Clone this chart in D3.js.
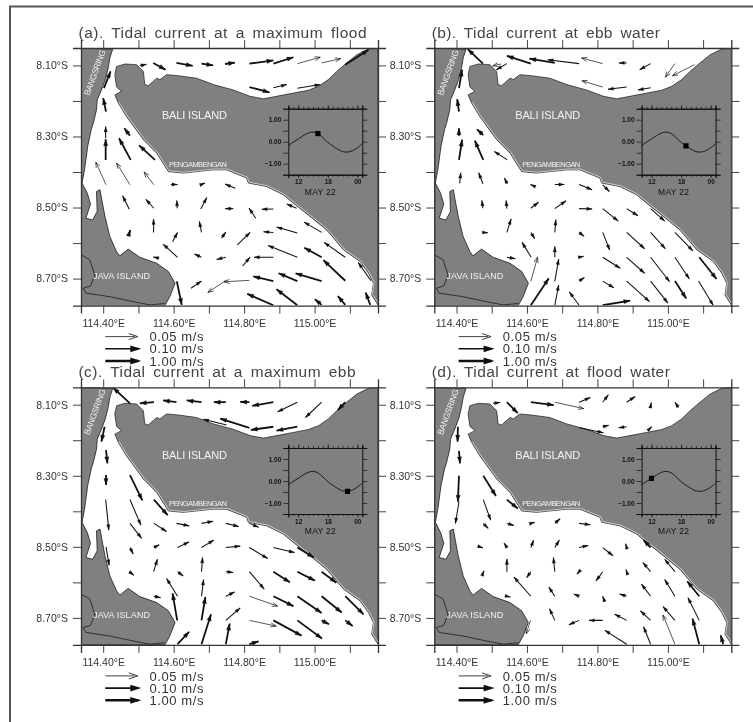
<!DOCTYPE html>
<html>
<head>
<meta charset="utf-8">
<script src="https://cdn.jsdelivr.net/npm/d3@7"></script>
<style>
body { margin: 0; background: #fff; }
svg { display: block; filter: blur(0.35px); }
text { font-family: "Liberation Sans", Arial, sans-serif; }
</style>
</head>
<body>
<svg id="chart" width="753" height="722"></svg>
<script>
// axis ticks
let lonTicks = [114.4, 114.5, 114.6, 114.7, 114.8, 114.9, 115.0, 115.1];
let latTicks = [8.1, 8.2, 8.3, 8.4, 8.5, 8.6, 8.7];

// tide curve for the insets (hour of the day, elevation in m)
let tideHours = [10, 11, 12, 13, 14, 15, 16, 17, 18, 19, 20, 21, 22, 23, 24, 25];
let tideLevel = [-0.18, -0.02, 0.12, 0.27, 0.39, 0.44, 0.37, 0.19, -0.03, -0.19, -0.34, -0.45, -0.47, -0.41, -0.28, -0.09];

// coast lines, [lon, lat]
let baliCoast = [[115.180,8.051],[115.153,8.054],[115.120,8.070],[115.091,8.093],[115.063,8.117],[115.039,8.140],[115.011,8.159],[114.982,8.170],[114.940,8.178],[114.892,8.187],[114.855,8.194],[114.817,8.187],[114.769,8.169],[114.713,8.154],[114.665,8.136],[114.613,8.129],[114.580,8.126],[114.561,8.140],[114.552,8.136],[114.528,8.157],[114.518,8.154],[114.514,8.117],[114.495,8.098],[114.462,8.096],[114.438,8.103],[114.433,8.126],[114.438,8.161],[114.452,8.173],[114.433,8.183],[114.443,8.206],[114.466,8.244],[114.514,8.309],[114.552,8.347],[114.585,8.399],[114.627,8.403],[114.713,8.394],[114.750,8.394],[114.807,8.417],[114.812,8.431],[114.864,8.441],[114.911,8.464],[114.945,8.492],[114.987,8.525],[115.034,8.563],[115.082,8.619],[115.129,8.652],[115.153,8.685],[115.167,8.713],[115.162,8.746],[115.180,8.774]];
let westCoast = [[114.337,8.051],[114.427,8.054],[114.419,8.079],[114.414,8.108],[114.406,8.140],[114.395,8.169],[114.383,8.197],[114.381,8.225],[114.372,8.262],[114.366,8.281],[114.356,8.328],[114.347,8.394],[114.340,8.431],[114.355,8.460],[114.364,8.490],[114.351,8.530],[114.370,8.535],[114.383,8.511],[114.381,8.455],[114.391,8.450],[114.396,8.478],[114.405,8.525],[114.419,8.582],[114.438,8.624],[114.447,8.636],[114.471,8.617],[114.504,8.640],[114.552,8.657],[114.585,8.680],[114.604,8.713],[114.589,8.751],[114.575,8.776],[114.337,8.776]];
let javaLine = [[114.337,8.633],[114.362,8.647],[114.376,8.690],[114.364,8.721],[114.343,8.727],[114.351,8.741],[114.419,8.751],[114.485,8.765],[114.533,8.774],[114.575,8.770]];

// place names: name, lon, lat, size, width, angle
let places = [
    ["BALI ISLAND", 114.659, 8.241, 11, 65, 0],
    ["PENGAMBENGAN", 114.669, 8.378, 7.5, 58, 0],
    ["JAVA ISLAND", 114.452, 8.692, 9, 57, 0],
    ["BANGSRING", 114.376, 8.120, 8.5, 48, -70]
];

// currents: tail lon, tail lat, tip lon, tip lat, line class
let currentsA = [
[114.504,8.101,114.523,8.097,1],[114.542,8.093,114.577,8.112,2],[114.608,8.093,114.654,8.101,2],[114.679,8.095,114.712,8.100,2],[114.746,8.096,114.774,8.092,2],[114.815,8.095,114.883,8.086,2],[114.883,8.095,114.940,8.077,2],[114.951,8.095,115.016,8.077,0],[115.020,8.093,115.074,8.081,0],[115.087,8.098,115.153,8.056,2],
[114.815,8.161,114.872,8.176,2],[114.883,8.163,114.921,8.154,1],[114.951,8.164,115.016,8.154,1],[114.402,8.164,114.421,8.117,2],[114.408,8.230,114.400,8.192,2],[114.407,8.305,114.407,8.272,1],[114.407,8.366,114.407,8.308,2],[114.476,8.298,114.460,8.277,2],[114.478,8.366,114.445,8.305,2],[114.547,8.366,114.502,8.325,2],
[114.408,8.436,114.379,8.372,0],[114.476,8.436,114.438,8.375,0],[114.544,8.436,114.516,8.400,0],[114.592,8.435,114.611,8.435,1],[114.679,8.435,114.689,8.431,1],[114.775,8.446,114.746,8.434,1],
[114.474,8.505,114.455,8.467,1],[114.544,8.502,114.521,8.477,1],[114.610,8.502,114.609,8.480,1],[114.677,8.504,114.694,8.472,1],[114.769,8.503,114.746,8.503,1],[114.833,8.530,114.814,8.502,1],[114.883,8.504,114.850,8.505,1],[114.949,8.502,114.921,8.490,1],
[114.474,8.572,114.477,8.563,2],[114.543,8.570,114.543,8.532,1],[114.679,8.570,114.673,8.539,1],[114.597,8.596,114.611,8.570,1],[114.736,8.586,114.748,8.569,1],[114.781,8.605,114.817,8.570,1],[114.883,8.570,114.855,8.568,1],[114.951,8.572,114.892,8.555,1],[115.020,8.570,114.970,8.541,1],
[114.611,8.640,114.570,8.603,1],[114.679,8.640,114.659,8.631,1],[114.559,8.643,114.542,8.639,1],[114.748,8.640,114.722,8.646,1],[114.796,8.664,114.817,8.640,1],[114.883,8.640,114.828,8.640,1],[114.951,8.640,114.868,8.607,1],[115.020,8.640,114.971,8.613,2],[115.087,8.640,115.027,8.598,1],[115.087,8.706,115.025,8.648,2],[115.160,8.706,115.124,8.655,1],
[114.649,8.727,114.679,8.707,1],[114.750,8.704,114.697,8.739,0],[114.815,8.705,114.743,8.709,0],[114.883,8.707,114.826,8.694,2],[114.951,8.707,114.898,8.685,2],[115.020,8.707,114.946,8.685,2],[114.609,8.708,114.623,8.774,2],
[114.883,8.775,114.809,8.743,2],[114.951,8.775,114.892,8.730,2],[115.020,8.774,115.001,8.758,2],[115.087,8.774,115.066,8.749,2],[115.158,8.774,115.145,8.739,2]
];
let currentsB = [
[114.475,8.095,114.432,8.054,2],[114.543,8.095,114.513,8.112,1],[114.527,8.096,114.503,8.101,0],[114.611,8.095,114.543,8.073,2],[114.679,8.093,114.607,8.081,2],[114.748,8.095,114.659,8.084,1],[114.815,8.095,114.755,8.079,0],[114.883,8.093,114.861,8.093,1],[114.951,8.095,114.920,8.112,1],[115.020,8.095,114.993,8.133,0],[115.076,8.098,115.013,8.129,0],
[114.815,8.161,114.756,8.143,0],[114.883,8.161,114.830,8.167,1],[114.951,8.163,114.915,8.169,1],[114.407,8.164,114.416,8.112,2],[114.407,8.230,114.402,8.195,2],[114.407,8.298,114.407,8.277,2],[114.407,8.366,114.416,8.309,2],[114.476,8.296,114.458,8.280,2],[114.476,8.366,114.452,8.312,2],[114.544,8.366,114.507,8.342,1],
[114.409,8.432,114.412,8.402,1],[114.475,8.433,114.463,8.402,1],[114.544,8.433,114.536,8.417,1],[114.623,8.441,114.610,8.435,1],[114.679,8.435,114.706,8.435,1],[114.748,8.435,114.785,8.450,1],[114.815,8.436,114.834,8.455,1],
[114.475,8.502,114.472,8.480,1],[114.543,8.503,114.541,8.480,1],[114.611,8.502,114.633,8.485,1],[114.679,8.503,114.711,8.481,1],[114.748,8.503,114.785,8.504,1],[114.815,8.503,114.859,8.538,1],[114.883,8.503,114.915,8.523,1],[114.951,8.503,114.991,8.538,1],
[114.475,8.570,114.489,8.571,1],[114.543,8.570,114.555,8.532,1],[114.611,8.570,114.622,8.588,1],[114.679,8.570,114.682,8.534,1],[114.748,8.570,114.762,8.581,1],[114.815,8.570,114.835,8.620,1],[114.883,8.570,114.934,8.616,1],[114.951,8.570,114.993,8.616,1],[115.020,8.570,115.071,8.622,1],
[114.612,8.640,114.586,8.598,1],[114.679,8.640,114.679,8.610,1],[114.543,8.640,114.567,8.644,1],[114.748,8.640,114.761,8.637,1],[114.815,8.640,114.865,8.671,1],[114.883,8.640,114.934,8.685,1],[114.951,8.640,115.005,8.709,1],[115.020,8.640,115.061,8.701,1],[115.089,8.640,115.138,8.701,2],
[114.611,8.708,114.630,8.640,0],[114.679,8.708,114.690,8.645,1],[114.611,8.775,114.662,8.699,2],[114.679,8.775,114.690,8.718,1],[114.748,8.775,114.720,8.737,1],[114.815,8.775,114.893,8.762,2],[114.748,8.707,114.763,8.697,1],[114.815,8.707,114.847,8.726,1],[114.883,8.707,114.948,8.765,1],[114.951,8.707,115.000,8.769,1],[115.020,8.707,115.052,8.756,2],[115.087,8.707,115.129,8.776,1]
];
let currentsC = [
[114.476,8.096,114.428,8.052,2],[114.544,8.093,114.504,8.096,2],[114.608,8.093,114.570,8.088,2],[114.679,8.093,114.637,8.088,2],[114.748,8.093,114.714,8.093,2],[114.815,8.093,114.789,8.092,2],[114.883,8.093,114.823,8.103,2],[114.951,8.093,114.895,8.120,1],[115.020,8.093,114.974,8.136,1],[115.087,8.093,115.066,8.115,2],
[114.815,8.165,114.732,8.139,2],[114.883,8.162,114.819,8.171,2],[114.951,8.162,114.892,8.173,2],[114.750,8.157,114.684,8.141,1],[114.404,8.162,114.395,8.204,2],[114.408,8.228,114.412,8.265,2],[114.408,8.298,114.408,8.326,2],[114.476,8.298,114.511,8.369,2],
[114.407,8.367,114.416,8.453,1],[114.476,8.367,114.507,8.439,1],[114.544,8.367,114.583,8.411,2],[114.608,8.434,114.644,8.441,1],[114.679,8.434,114.712,8.428,1],[114.748,8.434,114.785,8.443,1],[114.815,8.434,114.841,8.445,1],[114.476,8.434,114.509,8.476,1],[114.544,8.434,114.580,8.457,1],
[114.408,8.500,114.417,8.552,1],[114.476,8.502,114.485,8.520,1],[114.544,8.502,114.559,8.494,1],[114.611,8.502,114.644,8.486,1],[114.679,8.502,114.714,8.481,1],[114.748,8.502,114.789,8.498,1],[114.815,8.502,114.867,8.533,1],[114.883,8.502,114.943,8.516,1],[114.951,8.502,114.998,8.530,2],
[114.474,8.570,114.487,8.580,1],[114.543,8.570,114.554,8.535,1],[114.611,8.570,114.627,8.582,1],[114.679,8.570,114.682,8.530,1],[114.748,8.570,114.769,8.572,1],[114.815,8.570,114.857,8.619,1],[114.883,8.570,114.930,8.600,2],[114.951,8.570,115.001,8.595,2],[115.020,8.570,115.062,8.601,2],
[114.611,8.639,114.580,8.589,1],[114.679,8.639,114.685,8.592,1],[114.544,8.639,114.563,8.643,1],[114.748,8.639,114.773,8.627,1],[114.815,8.639,114.895,8.667,0],[114.883,8.639,114.940,8.667,2],[114.951,8.639,115.020,8.686,2],[115.020,8.639,115.077,8.685,2],[115.087,8.639,115.139,8.690,2],
[114.610,8.707,114.597,8.631,2],[114.679,8.707,114.690,8.641,2],[114.748,8.707,114.789,8.672,1],[114.815,8.707,114.891,8.723,0],[114.883,8.707,114.963,8.750,2],[114.951,8.707,115.021,8.758,2],[115.020,8.707,115.041,8.718,2],[115.087,8.707,115.108,8.723,2],
[114.611,8.774,114.644,8.739,2],[114.679,8.774,114.706,8.690,2],[114.748,8.774,114.759,8.716,2],[114.815,8.774,114.841,8.766,2]
];
let currentsD = [
[114.503,8.096,114.524,8.094,1],[114.543,8.093,114.574,8.124,2],[114.611,8.093,114.676,8.101,2],[114.679,8.093,114.761,8.111,0],[114.748,8.093,114.780,8.080,1],[114.815,8.093,114.831,8.072,1],[114.883,8.093,114.907,8.077,1],[114.951,8.104,114.953,8.094,1],[115.030,8.108,115.020,8.093,1],
[114.749,8.165,114.817,8.179,1],[114.815,8.162,114.832,8.158,1],[114.883,8.162,114.860,8.165,1],[114.947,8.169,114.954,8.162,1],[114.404,8.162,114.403,8.204,2],[114.407,8.230,114.410,8.265,2],[114.407,8.300,114.404,8.373,2],[114.407,8.373,114.397,8.434,1],[114.476,8.300,114.512,8.357,2],[114.476,8.367,114.497,8.425,1],[114.543,8.367,114.574,8.392,2],
[114.476,8.434,114.490,8.448,1],[114.543,8.434,114.563,8.440,1],[114.611,8.434,114.622,8.431,1],[114.679,8.434,114.694,8.421,1],[114.748,8.434,114.780,8.438,1],
[114.461,8.498,114.475,8.503,1],[114.543,8.502,114.535,8.489,1],[114.611,8.502,114.619,8.481,1],[114.679,8.502,114.692,8.481,1],[114.748,8.502,114.774,8.496,1],[114.815,8.502,114.844,8.525,1],[114.883,8.502,114.880,8.491,1],[114.951,8.502,114.931,8.481,2],
[114.475,8.575,114.478,8.567,1],[114.543,8.570,114.543,8.534,1],[114.679,8.570,114.675,8.530,1],[114.611,8.570,114.599,8.587,1],[114.748,8.570,114.742,8.577,1],[114.815,8.570,114.796,8.596,1],[114.883,8.570,114.881,8.564,1],[114.951,8.570,114.929,8.544,1],[115.020,8.570,114.991,8.535,1],
[114.611,8.639,114.563,8.585,1],[114.679,8.639,114.662,8.613,1],[114.543,8.639,114.553,8.641,1],[114.748,8.639,114.733,8.633,1],[114.821,8.655,114.815,8.639,1],[114.883,8.639,114.863,8.633,1],[114.951,8.639,114.925,8.605,1],[115.020,8.639,114.991,8.592,1],[115.089,8.639,115.055,8.597,2],
[114.679,8.707,114.664,8.674,1],[114.748,8.707,114.719,8.719,1],[114.815,8.707,114.776,8.707,1],[114.883,8.707,114.849,8.690,1],[114.951,8.707,114.922,8.680,1],[115.020,8.707,114.986,8.668,1],[115.089,8.707,115.057,8.643,1],[114.610,8.707,114.598,8.745,0],
[114.883,8.774,114.821,8.735,1],[114.951,8.774,114.931,8.725,1],[115.020,8.774,114.986,8.692,0],[115.089,8.774,115.070,8.702,2],[115.157,8.774,115.150,8.749,2]
];

// legend
let legendLabels = ["0.05 m/s", "0.10 m/s", "1.00 m/s"];

// panels: title, title width, marker hour, currents
let panelTitles = ["(a). Tidal current at a maximum flood", "(b). Tidal current at ebb water", "(c). Tidal current at a maximum ebb", "(d). Tidal current at flood water"];
let titleWidths = [288, 228, 277, 238];
let markerHours = [16, 19, 22, 12];
let panelCurrents = [currentsA, currentsB, currentsC, currentsD];

let panelLeft = [81, 434.3, 81, 434.3];
let panelTop = [48, 48, 387.3, 387.3];
let panelWidth = 297;
let panelHeight = 257.6;

let lineWidth = [0.7, 1.05, 1.8];
let headLength = [5.5, 5.5, 6.5];
let headHalf = [2, 1.7, 2.2];
let legendWidth = [0.8, 1.6, 2.4];
let inkColor = "#333";
let landColor = "#808080";

let chart = d3.select("#chart");

// outer frame, only top and left are on the page
chart.append("path")
    .attr("d", "M753,6.5H10V722")
    .attr("fill", "none")
    .attr("stroke", "#555")
    .attr("stroke-width", 2);

let x = d3.scaleLinear().domain([114.337, 115.18]).range([0, panelWidth]);
let y = d3.scaleLinear().domain([8.051, 8.776]).range([0, panelHeight]);
let coastLine = d3.line().x(function(d){ return x(d[0]); }).y(function(d){ return y(d[1]); });

function arrowHead(x1, y1, x2, y2, w){
    let a = Math.atan2(y2 - y1, x2 - x1);
    let len = headLength[w];
    let half = headHalf[w];
    let bx = x2 - len * Math.cos(a);
    let by = y2 - len * Math.sin(a);
    let nx = -Math.sin(a) * half;
    let ny = Math.cos(a) * half;
    let head = "M" + (bx + nx) + "," + (by + ny) + "L" + x2 + "," + y2 + "L" + (bx - nx) + "," + (by - ny);
    return w == 0 ? head : head + "Z";
}

function drawArrow(g, x1, y1, x2, y2, w){
    g.append("line")
        .attr("x1", x1).attr("y1", y1)
        .attr("x2", x2).attr("y2", y2)
        .attr("stroke", "#111")
        .attr("stroke-width", lineWidth[w]);
    g.append("path")
        .attr("d", arrowHead(x1, y1, x2, y2, w))
        .attr("fill", w == 0 ? "none" : "#111")
        .attr("stroke", "#111")
        .attr("stroke-width", w == 0 ? 0.7 : 0.2);
}

function drawPanel(i){
    let g = chart.append("g")
        .attr("transform", "translate(" + panelLeft[i] + "," + panelTop[i] + ")");

    g.append("text")
        .attr("x", -2.5)
        .attr("y", -10)
        .attr("font-size", "15.5px")
        .attr("fill", "#444")
        .attr("word-spacing", "3px")
        .attr("textLength", titleWidths[i])
        .attr("lengthAdjust", "spacing")
        .text(panelTitles[i]);

    let clipId = "clip" + i;
    g.append("clipPath").attr("id", clipId)
        .append("rect").attr("width", panelWidth).attr("height", panelHeight);

    let map = g.append("g").attr("clip-path", "url(#" + clipId + ")");

    map.append("path")
        .attr("d", coastLine(baliCoast) + "Z")
        .attr("fill", landColor)
        .attr("stroke", "#1a1a1a")
        .attr("stroke-width", 0.7);
    // pale edge along the southern Bali shore
    map.append("path")
        .attr("d", coastLine(baliCoast.slice(29)))
        .attr("transform", "translate(0.7,-0.8)")
        .attr("fill", "none")
        .attr("stroke", "#eee")
        .attr("stroke-width", 0.7);
    map.append("path")
        .attr("d", coastLine(westCoast) + "Z")
        .attr("fill", landColor)
        .attr("stroke", "#1a1a1a")
        .attr("stroke-width", 0.8);
    map.append("path")
        .attr("d", coastLine(javaLine))
        .attr("fill", "none")
        .attr("stroke", "#1a1a1a")
        .attr("stroke-width", 0.8);

    // place names
    places.forEach(function(p){
        map.append("text")
            .attr("transform", "translate(" + x(p[1]) + "," + y(p[2]) + ") rotate(" + p[5] + ")")
            .attr("text-anchor", "middle")
            .attr("dy", "0.35em")
            .attr("font-size", p[3] + "px")
            .attr("fill", "#f2f2f2")
            .attr("textLength", p[4])
            .text(p[0]);
    });

    // currents
    let arrows = map.append("g");
    panelCurrents[i].forEach(function(d){
        drawArrow(arrows, x(d[0]), y(d[1]), x(d[2]), y(d[3]), d[4]);
    });

    // axes, all four sides, labels on two
    let axisBottom = d3.axisBottom(x).tickValues(lonTicks).tickSize(8).tickPadding(6)
        .tickFormat(function(d, k){ return k % 2 == 0 ? d.toFixed(2) + "°E" : ""; });
    let axisTop = d3.axisTop(x).tickValues(lonTicks).tickSize(8).tickFormat("");
    let axisLeft = d3.axisLeft(y).tickValues(latTicks).tickSize(8).tickPadding(5)
        .tickFormat(function(d, k){ return k % 2 == 0 ? d.toFixed(2) + "°S" : ""; });
    let axisRight = d3.axisRight(y).tickValues(latTicks).tickSize(8).tickFormat("");

    let axes = [
        g.append("g").attr("transform", "translate(0," + panelHeight + ")").call(axisBottom),
        g.append("g").call(axisTop),
        g.append("g").call(axisLeft),
        g.append("g").attr("transform", "translate(" + panelWidth + ",0)").call(axisRight)
    ];
    axes.forEach(function(a){
        a.selectAll("path.domain").attr("stroke", "#333").attr("stroke-width", 1.3);
        a.selectAll("line").attr("stroke", "#444").attr("stroke-width", 1);
        a.selectAll("text")
            .attr("font-size", "10.5px")
            .attr("font-family", "Liberation Sans")
            .attr("fill", inkColor);
    });

    drawInset(g, markerHours[i]);

    // legend
    let legend = g.append("g").attr("transform", "translate(0," + (panelHeight + 31) + ")");
    legendLabels.forEach(function(label, k){
        let ly = k * 12.2;
        drawLegendArrow(legend, ly, k);
        legend.append("text")
            .attr("x", 68.5)
            .attr("y", ly + 4.6)
            .attr("font-size", "13px")
            .attr("fill", inkColor)
            .attr("textLength", 54)
            .attr("lengthAdjust", "spacing")
            .text(label);
    });
}

function drawLegendArrow(g, ly, k){
    let len = k == 0 ? 32.5 : 36;
    g.append("line")
        .attr("x1", 24.3).attr("y1", ly)
        .attr("x2", 24.3 + len - 3).attr("y2", ly)
        .attr("stroke", "#111")
        .attr("stroke-width", legendWidth[k]);
    let hx = 24.3 + len;
    if (k == 0) {
        g.append("path")
            .attr("d", "M" + (hx - 9) + "," + (ly - 3) + "L" + hx + "," + ly + "L" + (hx - 9) + "," + (ly + 3))
            .attr("fill", "none").attr("stroke", "#111").attr("stroke-width", 0.8);
    } else {
        g.append("path")
            .attr("d", "M" + (hx - 11) + "," + (ly - 3.4) + "L" + hx + "," + ly + "L" + (hx - 11) + "," + (ly + 3.4) + "Z")
            .attr("fill", "#111");
    }
}

function drawInset(g, hour){
    let inset = g.append("g").attr("transform", "translate(207.3,60.7)");
    let w = 74, h = 66;
    let tx = d3.scaleLinear().domain([10, 25]).range([0, w]);
    let ty = d3.scaleLinear().domain([-1.5, 1.5]).range([h, 0]);
    let hourTicks = d3.range(10, 26);

    let minorBottom = d3.axisBottom(tx).tickValues(hourTicks).tickSize(2).tickFormat("");
    let minorTop = d3.axisTop(tx).tickValues(hourTicks).tickSize(2).tickFormat("");
    let majorBottom = d3.axisBottom(tx).tickValues([12, 18, 24]).tickSize(3.5).tickPadding(1.5)
        .tickFormat(function(d){ return d == 24 ? "00" : String(d); });
    let majorTop = d3.axisTop(tx).tickValues([12, 18, 24]).tickSize(3.5).tickFormat("");
    let left = d3.axisLeft(ty).tickValues([-1.5, -1, -0.5, 0, 0.5, 1, 1.5]).tickSize(5).tickPadding(2)
        .tickFormat(function(d){ return Number.isInteger(d) ? (d < 0 ? "\u2212" : "") + Math.abs(d).toFixed(2) : ""; });
    let right = d3.axisRight(ty).tickValues([-1.5, -1, -0.5, 0, 0.5, 1, 1.5]).tickSize(5).tickFormat("");

    let parts = [
        inset.append("g").attr("transform", "translate(0," + h + ")").call(minorBottom),
        inset.append("g").attr("transform", "translate(0," + h + ")").call(majorBottom),
        inset.append("g").call(minorTop),
        inset.append("g").call(majorTop),
        inset.append("g").call(left),
        inset.append("g").attr("transform", "translate(" + w + ",0)").call(right)
    ];
    parts.forEach(function(a){
        a.selectAll("path.domain").attr("stroke", "#111").attr("stroke-width", 1);
        a.selectAll("line").attr("stroke", "#111").attr("stroke-width", 0.7);
        a.selectAll("text")
            .attr("font-size", "6.5px")
            .attr("font-weight", "bold")
            .attr("font-family", "Liberation Sans")
            .attr("fill", "#111");
    });

    let tideLine = d3.line()
        .x(function(d, k){ return tx(tideHours[k]); })
        .y(function(d){ return ty(d); })
        .curve(d3.curveCatmullRom);
    inset.append("path")
        .attr("d", tideLine(tideLevel))
        .attr("fill", "none")
        .attr("stroke", "#111")
        .attr("stroke-width", 0.9);

    let level = tideLevel[tideHours.indexOf(hour)];
    inset.append("rect")
        .attr("x", tx(hour) - 2.6)
        .attr("y", ty(level) - 2.6)
        .attr("width", 5.2)
        .attr("height", 5.2)
        .attr("fill", "#000");

    inset.append("text")
        .attr("x", 32)
        .attr("y", h + 20)
        .attr("text-anchor", "middle")
        .attr("font-size", "8.5px")
        .attr("fill", "#111")
        .attr("textLength", 31)
        .text("MAY 22");
}

panelTitles.forEach(function(t, i){ drawPanel(i); });
</script>
</body>
</html>
